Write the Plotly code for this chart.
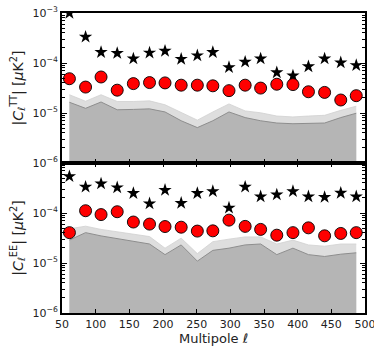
import plotly.graph_objects as go
from plotly.subplots import make_subplots

ell = [61, 85, 108, 132, 156, 180, 203, 227, 251, 274, 298, 322, 345, 369, 393, 416, 440, 464, 487]

tt_circ = [4.85e-5, 3.3e-5, 5.25e-5, 2.86e-5, 3.87e-5, 4.06e-5, 4.0e-5, 3.6e-5, 3.6e-5, 3.5e-5,
           2.8e-5, 3.6e-5, 3.15e-5, 3.76e-5, 3.7e-5, 2.66e-5, 2.58e-5, 1.82e-5, 2.22e-5]
tt_star = [1.0e-3, 3.33e-4, 1.64e-4, 1.57e-4, 1.22e-4, 1.6e-4, 1.74e-4, 1.2e-4, 1.41e-4, 1.64e-4,
           8.2e-5, 1.05e-4, 1.22e-4, 6.45e-5, 5.56e-5, 8.5e-5, 1.22e-4, 1.02e-4, 9.0e-5]
tt_light = [2.32e-5, 1.72e-5, 2.32e-5, 1.7e-5, 1.7e-5, 1.75e-5, 1.46e-5, 1.01e-5, 7.2e-6, 1.05e-5,
            1.52e-5, 1.1e-5, 1.01e-5, 8.7e-6, 8.35e-6, 8.7e-6, 9.0e-6, 1.13e-5, 1.37e-5]
tt_dark = [1.64e-5, 1.24e-5, 1.66e-5, 1.16e-5, 1.18e-5, 1.21e-5, 1.05e-5, 7.0e-6, 5.1e-6, 7.0e-6,
           1.05e-5, 8.1e-6, 7.0e-6, 6.3e-6, 6.1e-6, 6.3e-6, 6.3e-6, 8.1e-6, 9.9e-6]

ee_circ = [4.05e-5, 1.11e-4, 9.3e-5, 1.06e-4, 6.6e-5, 6.0e-5, 5.36e-5, 5.2e-5, 4.35e-5, 4.4e-5,
           7.2e-5, 5.4e-5, 4.7e-5, 3.6e-5, 4.05e-5, 5.05e-5, 3.5e-5, 3.9e-5, 4.05e-5]
ee_star = [5.4e-4, 3.33e-4, 3.86e-4, 3.23e-4, 2.48e-4, 1.54e-4, 2.87e-4, 1.58e-4, 2.48e-4, 2.71e-4,
           1.27e-4, 3.33e-4, 2.13e-4, 2.33e-4, 2.71e-4, 2.13e-4, 2.07e-4, 2.51e-4, 2.13e-4]
ee_light = [4.83e-5, 5.45e-5, 4.7e-5, 4.17e-5, 3.75e-5, 3.38e-5, 1.98e-5, 3.14e-5, 1.54e-5, 2.67e-5,
            3.0e-5, 3.33e-5, 3.33e-5, 2.4e-5, 2.87e-5, 2.3e-5, 2.17e-5, 2.4e-5, 2.4e-5]
ee_dark = [2.87e-5, 4.05e-5, 3.48e-5, 3.09e-5, 2.67e-5, 2.4e-5, 1.47e-5, 2.3e-5, 1.09e-5, 1.79e-5,
           1.98e-5, 2.3e-5, 2.4e-5, 1.47e-5, 1.98e-5, 1.47e-5, 1.35e-5, 1.5e-5, 1.6e-5]

x_ticks = [50, 100, 150, 200, 250, 300, 350, 400, 450, 500]
y_major = [1e-6, 1e-5, 1e-4, 1e-3]
y_labels_top = ["10<sup>−6</sup>", "10<sup>−5</sup>", "10<sup>−4</sup>", "10<sup>−3</sup>"]
y_labels_bot = ["10<sup>−6</sup>", "10<sup>−5</sup>", "10<sup>−4</sup>", " "]

FLOOR = 1e-7
LIGHT = "#dedede"
DARK = "#b5b5b5"
EDGE = "#8e8e8e"

fig = make_subplots(rows=2, cols=1, shared_xaxes=True, vertical_spacing=0)

def add_panel(row, light, dark, circ, star):
    base = [FLOOR] * len(ell)
    fig.add_trace(go.Scatter(x=ell, y=base, mode="lines", line=dict(width=0), showlegend=False,
                             hoverinfo="skip"), row=row, col=1)
    fig.add_trace(go.Scatter(x=ell, y=light, mode="lines", fill="tonexty", fillcolor=LIGHT,
                             line=dict(width=0.8, color="#d0d0d0"), showlegend=False), row=row, col=1)
    fig.add_trace(go.Scatter(x=ell, y=base, mode="lines", line=dict(width=0), showlegend=False,
                             hoverinfo="skip"), row=row, col=1)
    fig.add_trace(go.Scatter(x=ell, y=dark, mode="lines", fill="tonexty", fillcolor=DARK,
                             line=dict(width=1, color=EDGE), showlegend=False), row=row, col=1)
    fig.add_trace(go.Scatter(x=ell, y=star, mode="markers",
                             marker=dict(symbol="star", size=10, color="black",
                                         line=dict(width=0)), showlegend=False), row=row, col=1)
    fig.add_trace(go.Scatter(x=ell, y=circ, mode="markers",
                             marker=dict(symbol="circle", size=12, color="#ff0000",
                                         line=dict(width=0.9, color="black")), showlegend=False),
                  row=row, col=1)

add_panel(1, tt_light, tt_dark, tt_circ, tt_star)
add_panel(2, ee_light, ee_dark, ee_circ, ee_star)

minor_vals = [m * 10 ** e for e in range(-7, -2) for m in range(2, 10)]
font = dict(family="DejaVu Sans", size=11, color="#222222")
title_font = dict(family="DejaVu Sans", size=14, color="#222222")

common_x = dict(range=[50, 500], tickvals=x_ticks, ticks="inside", ticklen=4, tickwidth=1,
                tickcolor="black", showline=True, linecolor="black", linewidth=2,
                showgrid=False, zeroline=False, tickfont=font, ticklabeloverflow="allow")
fig.update_xaxes(**common_x, showticklabels=False, mirror=True, row=1, col=1)
fig.update_xaxes(**common_x, showticklabels=True, mirror="ticks", row=2, col=1,
                 title=dict(text="Multipole <i>ℓ</i>", font=dict(family="DejaVu Sans", size=13, color="#222222"),
                            standoff=3))

common_y = dict(type="log", range=[-6, -3], tickvals=y_major, ticks="inside", ticklen=5,
                tickwidth=1, tickcolor="black", showline=True, linecolor="black", linewidth=2,
                mirror="ticks", showgrid=False, zeroline=False, tickfont=font,
                minor=dict(tickvals=minor_vals, ticks="inside", ticklen=3, tickwidth=0.8,
                           tickcolor="black", showgrid=False))
fig.update_yaxes(**common_y, ticktext=y_labels_top, row=1, col=1,
                 title=dict(text="|<i>C</i><sub><i>ℓ</i></sub><sup>TT</sup>| [<i>μ</i>K<sup>2</sup>]",
                            font=title_font, standoff=6))
fig.update_yaxes(**common_y, ticktext=y_labels_bot, row=2, col=1,
                 title=dict(text="|<i>C</i><sub><i>ℓ</i></sub><sup>EE</sup>| [<i>μ</i>K<sup>2</sup>]",
                            font=title_font, standoff=6))

# div slightly wider than the window so the "500" label is not hidden; window crops at 374 px
fig.update_layout(width=390, height=352, margin=dict(l=62, r=25, t=5, b=39),
                  plot_bgcolor="white", paper_bgcolor="white", showlegend=False)

fig.write_html("out.html", config={"displayModeBar": False},
               post_script="document.body.style.margin='0';document.body.style.overflow='hidden';")
